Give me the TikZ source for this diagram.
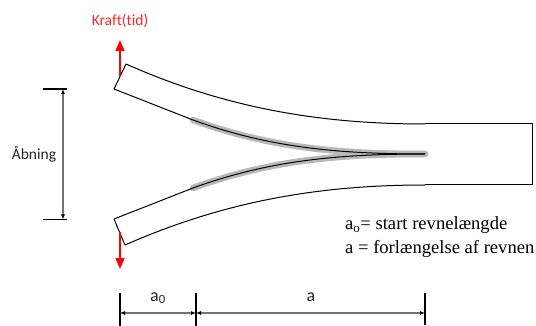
\documentclass[tikz,border=0pt]{standalone}
\usepackage{fontspec}
\setmainfont{Carlito}[RawFeature={-liga;-clig;-dlig}]
\newfontfamily\serifnote{Liberation Serif}
\usetikzlibrary{arrows.meta}
\tikzset{
 edge/.style={line width=1pt,black},
 crack/.style={line width=6.5pt,black!28,line cap=round},
 force/.style={line width=1.6pt,red,-{Triangle[length=11pt,width=9pt]}},
 dim/.style={line width=1.2pt,black!55,{Latex[black,length=5pt,width=4pt]}-{Latex[black,length=5pt,width=4pt]}},
 tick/.style={line width=1.3pt,black},
 lab/.style={font=\fontsize{15.5}{18}\selectfont,inner sep=0pt,text=black!85},
 note/.style={font=\serifnote\fontsize{18.6}{22}\selectfont,inner sep=0pt,anchor=base west}
}
\begin{document}
\begin{tikzpicture}[x=1pt,y=-1pt]
\useasboundingbox (0,0) rectangle (536,326);
% named points
\coordinate (tl) at (126,64); \coordinate (il) at (114,89);
\coordinate (bl) at (114,219); \coordinate (ol) at (125,245);
\coordinate (tip) at (425,154);
\coordinate (tr) at (532,124); \coordinate (br) at (532,185);
\coordinate (tm) at (425,124); \coordinate (bm) at (425,185);
\coordinate (ca) at (193,120); \coordinate (cb) at (193,188);
% grey crack band
\draw[crack] (ca) .. controls (270,148) and (340,154) .. (tip);
\draw[crack] (cb) .. controls (270,160) and (340,154) .. (tip);
% outline
\draw[edge,line join=miter] (tm) -- (tr) -- (br) -- (bm);
\draw[edge] (tl) .. controls (225,108) and (320,124) .. (tm);
\draw[edge] (ol) .. controls (225,201) and (320,185) .. (bm);
\draw[edge] (tl) -- (il);
\draw[edge] (ol) -- (bl);
\draw[edge] (il) -- (ca) .. controls (270,148) and (340,154) .. (tip);
\draw[edge] (bl) -- (cb) .. controls (270,160) and (340,154) .. (tip);
% forces
\coordinate (f1) at (120,76); \coordinate (f1e) at (120,40);
\coordinate (f2) at (120,232); \coordinate (f2e) at (120,269);
\draw[force] (f1) -- (f1e);
\draw[force] (f2) -- (f2e);
\node[lab,text=red!85!white] (kraft) at (120,21) {Kraft(tid)};
% opening
\coordinate (o1a) at (43,89); \coordinate (o1b) at (67,89);
\coordinate (o2a) at (43,219.5); \coordinate (o2b) at (67,219.5);
\draw[tick] (o1a) -- (o1b);
\draw[tick] (o2a) -- (o2b);
\coordinate (od1) at (63,89); \coordinate (od2) at (63,219.5);
\draw[dim] (od1) -- (od2);
\node[lab,fill=white,inner xsep=1.5pt,inner ysep=2pt] (abn) at (34,154) {Åbning};
% bottom dimensions
\coordinate (t1a) at (120,293); \coordinate (t1b) at (120,326);
\coordinate (t2a) at (196,293); \coordinate (t2b) at (196,326);
\coordinate (t3a) at (425,293); \coordinate (t3b) at (425,325);
\draw[tick] (t1a) -- (t1b);
\draw[tick] (t2a) -- (t2b);
\draw[tick] (t3a) -- (t3b);
\coordinate (d1) at (120,313); \coordinate (d2) at (196,313); \coordinate (d3) at (425,313);
\draw[dim] (d1) -- (d2);
\draw[dim] (d2) -- (d3);
\node[lab,font=\fontsize{18}{20}\selectfont] (a0) at (158,298) {a\textsubscript{0}};
\node[lab,font=\fontsize{18}{20}\selectfont] (a1) at (311,297) {a};
% notes
\node[note] (n1) at (345,229.5) {a\textsubscript{o}= start revnelængde};
\node[note] (n2) at (345,254) {a = forlængelse af revnen};
\end{tikzpicture}
\end{document}
